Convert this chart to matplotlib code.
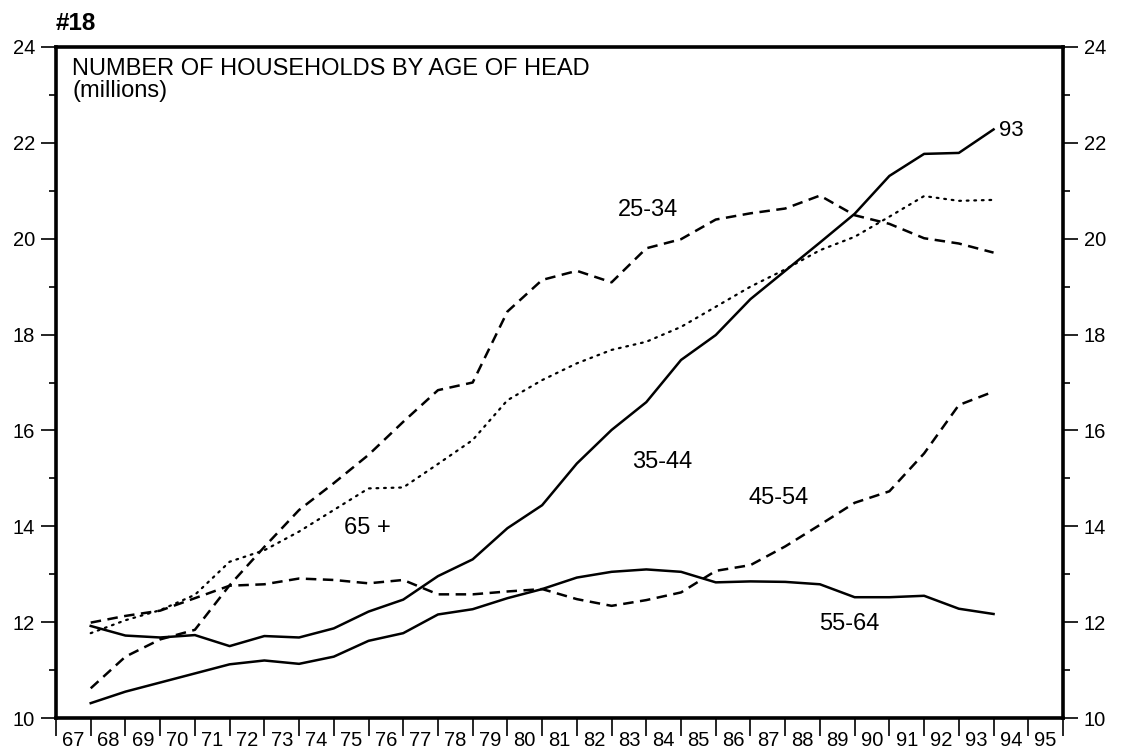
import matplotlib
matplotlib.use("Agg")
import matplotlib.pyplot as plt
from matplotlib.ticker import FixedLocator, NullFormatter, FixedFormatter
import numpy as np

plt.rcParams['font.family'] = ['Liberation Sans', 'DejaVu Sans']

years = list(range(67, 94))
age_25_34 = [10.62, 11.28, 11.64, 11.84, 12.77, 13.57, 14.34, 14.90, 15.49, 16.18,
             16.84, 17.00, 18.48, 19.14, 19.33, 19.09, 19.80, 19.99, 20.40, 20.53,
             20.63, 20.90, 20.49, 20.31, 20.01, 19.90, 19.71]
age_35_44 = [11.92, 11.72, 11.68, 11.73, 11.50, 11.71, 11.68, 11.87, 12.22, 12.47,
             12.96, 13.31, 13.96, 14.44, 15.31, 16.01, 16.59, 17.47, 17.99, 18.74,
             19.33, 19.92, 20.52, 21.31, 21.77, 21.79, 22.28]
age_45_54 = [11.99, 12.13, 12.24, 12.50, 12.76, 12.79, 12.91, 12.88, 12.81, 12.88,
             12.58, 12.58, 12.64, 12.69, 12.48, 12.34, 12.46, 12.62, 13.07, 13.19,
             13.58, 14.03, 14.49, 14.73, 15.52, 16.53, 16.81]
age_55_64 = [10.31, 10.55, 10.74, 10.93, 11.12, 11.20, 11.13, 11.28, 11.61, 11.77,
             12.16, 12.27, 12.50, 12.69, 12.93, 13.05, 13.10, 13.05, 12.83, 12.85,
             12.84, 12.79, 12.52, 12.52, 12.55, 12.28, 12.17]
age_65_plus = [11.77, 12.04, 12.25, 12.57, 13.26, 13.50, 13.89, 14.34, 14.79, 14.81,
               15.30, 15.80, 16.63, 17.05, 17.40, 17.68, 17.85, 18.16, 18.58, 19.00,
               19.36, 19.76, 20.04, 20.46, 20.89, 20.79, 20.81]

tick_labels = [str(y) for y in range(67, 96)]

fig = plt.figure(figsize=(11.22, 7.5), dpi=100)
ax = fig.add_axes([56/1122, 32/750, (1063-56)/1122, (718-47)/750])

lw = 1.8
ax.plot(years, age_35_44, color='black', lw=lw)
ax.plot(years, age_55_64, color='black', lw=lw)
ax.plot(years, age_25_34, color='black', lw=lw, dashes=(4.2, 2.6))
ax.plot(years, age_45_54, color='black', lw=lw, dashes=(4.2, 2.6))
ax.plot(years, age_65_plus, color='black', lw=1.6, dashes=(0.8, 2.6), dash_capstyle='round')

ax.set_xlim(66, 95)
ax.set_ylim(10, 24)

# x axis: boundary ticks, labels centered between
ax.xaxis.set_major_locator(FixedLocator(np.arange(66, 96)))
ax.xaxis.set_major_formatter(NullFormatter())
ax.xaxis.set_minor_locator(FixedLocator(np.arange(66, 95) + 0.5))
ax.xaxis.set_minor_formatter(FixedFormatter(tick_labels))
ax.tick_params(axis='x', which='major', direction='out', length=13, width=1.2)
ax.tick_params(axis='x', which='minor', length=0, pad=9, labelsize=14.5)

# y axis both sides
ax.set_yticks(np.arange(10, 25, 2))
ax.set_yticks(np.arange(11, 24, 2), minor=True)
ax.tick_params(axis='y', which='major', direction='out', length=11, width=1.2,
               labelsize=14.5, left=True, right=True, labelleft=True, labelright=True, pad=4)
ax.tick_params(axis='y', which='minor', direction='out', length=5, width=1.2,
               left=True, right=True)

for s in ax.spines.values():
    s.set_linewidth(2.6)

fig.text(72/1122, 1 - 75/750, 'NUMBER OF HOUSEHOLDS BY AGE OF HEAD',
         ha='left', va='baseline', fontsize=17)
fig.text(72/1122, 1 - 97/750, '(millions)', ha='left', va='baseline', fontsize=17)
fig.text(56/1122, 1 - 23/750, '#18', ha='left', va='center', fontsize=17.5, fontweight='bold')

lab_fs = 17
ax.text(83.05, 20.59, '25-34', ha='center', va='center', fontsize=lab_fs)
ax.text(83.45, 15.35, '35-44', ha='center', va='center', fontsize=lab_fs)
ax.text(86.8, 14.58, '45-54', ha='center', va='center', fontsize=lab_fs)
ax.text(88.84, 11.96, '55-64', ha='center', va='center', fontsize=lab_fs)
ax.text(74.96, 13.97, '65 +', ha='center', va='center', fontsize=lab_fs)
ax.text(93.16, 22.26, '93', ha='left', va='center', fontsize=16)

fig.savefig('out.png', dpi=100)
